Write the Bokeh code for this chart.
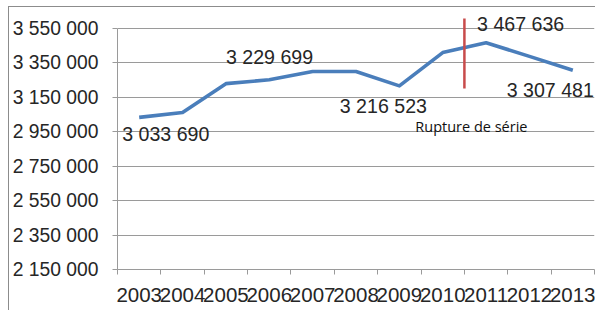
from bokeh.plotting import figure
from bokeh.models import FixedTicker, Label, ColumnDataSource
from bokeh.embed import file_html
from bokeh.resources import INLINE

years = ["2003", "2004", "2005", "2006", "2007", "2008", "2009", "2010", "2011", "2012", "2013"]
values = [3033690, 3062000, 3229699, 3252000, 3300000, 3300000, 3216523, 3410000, 3467636, 3388000, 3307481]
y_ticks = [2150000, 2350000, 2550000, 2750000, 2950000, 3150000, 3350000, 3550000]
labeled_years = ["2003", "2005", "2009", "2011", "2013"]
rupture_text = "Rupture de série"
rupture_between = ("2010", "2011")
rupture_span = (3201000, 3608000)

FONT = "Liberation Sans"
TXT = "#262626"
GRID = "#9a9a9a"

xs = list(range(len(years)))
p = figure(width=587, height=304, output_backend="svg", toolbar_location=None,
           x_range=(-0.5, len(years) - 0.5), y_range=(y_ticks[0], 3643000),
           min_border_left=106, min_border_right=2, min_border_top=5, min_border_bottom=42)
p.styles = {"border-left": "1px solid #8c8c8c", "border-top": "1px solid #8c8c8c",
            "margin-left": "8px", "margin-top": "6px"}
p.outline_line_color = None
p.background_fill_color = "white"

# y axis
p.yaxis.ticker = FixedTicker(ticks=y_ticks)
p.yaxis.major_label_overrides = {v: f"{v:,}".replace(",", " ") for v in y_ticks}
p.yaxis.bounds = (y_ticks[0], y_ticks[-1])
p.yaxis.axis_line_color = GRID
p.yaxis.major_tick_line_color = GRID
p.yaxis.major_tick_out = 5
p.yaxis.major_tick_in = 0
p.yaxis.minor_tick_line_color = None
p.yaxis.major_label_text_font = FONT
p.yaxis.major_label_text_font_size = "19.3px"
p.yaxis.major_label_text_color = TXT
p.yaxis.major_label_standoff = 14
p.ygrid.grid_line_color = GRID
p.ygrid.grid_line_width = 1.2
p.ygrid.ticker = FixedTicker(ticks=y_ticks)

# x axis
bounds = [i - 0.5 for i in range(len(years) + 1)]
p.xaxis.ticker = FixedTicker(ticks=xs, minor_ticks=bounds)
p.xaxis.major_label_overrides = {i: y for i, y in enumerate(years)}
p.xaxis.bounds = (-0.5, len(years) - 0.5)
p.xaxis.axis_line_color = GRID
p.xaxis.axis_line_width = 1.2
p.xaxis.major_tick_line_color = None
p.xaxis.minor_tick_line_color = GRID
p.xaxis.minor_tick_out = 5
p.xaxis.minor_tick_in = 0
p.xaxis.major_label_text_font = FONT
p.xaxis.major_label_text_font_size = "20.5px"
p.xaxis.major_label_text_color = TXT
p.xaxis.major_label_standoff = 12
p.xgrid.grid_line_color = None

src = ColumnDataSource(dict(x=xs, y=values))
p.line("x", "y", source=src, line_color="#4a7ebb", line_width=3.6, line_join="round")

# rupture line
rx = (years.index(rupture_between[0]) + years.index(rupture_between[1])) / 2
p.segment(x0=[rx], y0=[rupture_span[0]], x1=[rx], y1=[rupture_span[1]],
          line_color="#c84b4b", line_width=2.5)

# data labels
offsets = {
    "2003": ("left", -17, 17),
    "2005": ("left", 0, -27),
    "2009": ("center", -16, 20),
    "2011": ("left", -9, -19),
    "2013": ("right", 21, 20),
}
for yr in labeled_years:
    i = years.index(yr)
    align, dx, dy = offsets[yr]
    p.add_layout(Label(x=i, y=values[i], text=f"{values[i]:,}".replace(",", " "),
                       x_offset=dx, y_offset=-dy, text_align=align, text_baseline="middle",
                       text_font=FONT, text_font_size="19.6px", text_color=TXT))

p.add_layout(Label(x=rx, y=rupture_span[0], text=rupture_text, x_offset=7, y_offset=-38,
                   text_align="center", text_baseline="middle",
                   text_font="Open Sans", text_font_size="14.5px", text_color="#111111"))

open("out.html", "w").write(file_html(p, INLINE))
